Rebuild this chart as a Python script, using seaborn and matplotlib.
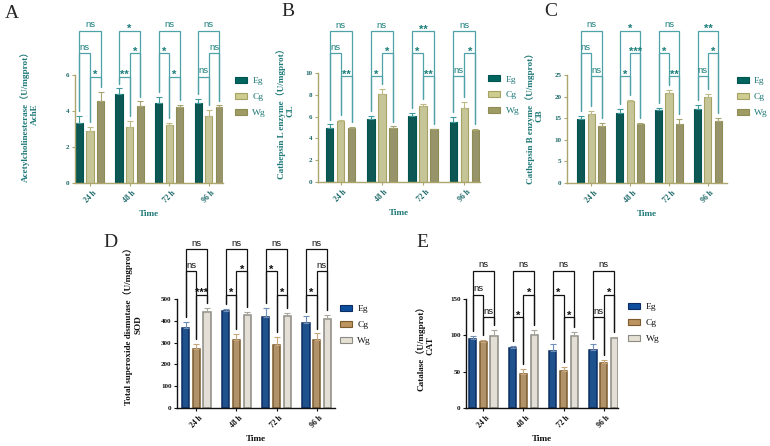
import numpy as np
import pandas as pd
import matplotlib
matplotlib.use('Agg')
import matplotlib.pyplot as plt
import matplotlib.patches as mpatches
from matplotlib.container import BarContainer
import seaborn as sns

# ===========================
# DATA
# ===========================
times = ['24 h', '48 h', '72 h', '96 h']
groups = ['Eg', 'Cg', 'Wg']

# A: acetylcholinesterase, rows = Eg, Cg, Wg
ache_mean = [[3.35, 4.92, 4.43, 4.45], [2.90, 3.10, 3.20, 3.73], [4.58, 4.28, 4.24, 4.20]]
ache_err = [[0.38, 0.33, 0.35, 0.22], [0.20, 0.37, 0.12, 0.33], [0.50, 0.25, 0.08, 0.11]]
ache_sig = [['ns', '**', '*', 'ns'], ['*', '*', '*', 'ns'], ['ns', '*', 'ns', 'ns']]

# B: cathepsin L
cl_mean = [[5.00, 5.80, 6.10, 5.47], [5.62, 8.04, 6.97, 6.82], [4.92, 4.92, 4.83, 4.77]]
cl_err = [[0.28, 0.25, 0.26, 0.48], [0.05, 0.50, 0.22, 0.52], [0.10, 0.18, 0.06, 0.12]]
cl_sig = [['ns', '*', '*', 'ns'], ['**', '*', '**', '*'], ['ns', 'ns', '**', 'ns']]

# C: cathepsin B
cb_mean = [[14.8, 16.3, 17.0, 17.2], [15.9, 19.0, 20.8, 20.0], [13.2, 13.7, 13.6, 14.3]]
cb_err = [[0.7, 0.8, 0.3, 0.8], [0.8, 0.2, 0.7, 0.6], [0.7, 0.3, 1.3, 0.7]]
cb_sig = [['ns', '*', '*', 'ns'], ['ns', '***', '**', '*'], ['ns', '*', 'ns', '**']]

# D: total superoxide dismutase
sod_mean = [[368, 443, 418, 392], [270, 312, 291, 312], [439, 425, 422, 410]]
sod_err = [[28, 12, 42, 28], [25, 26, 36, 30], [18, 16, 12, 15]]
sod_sig = [['ns', '*', '*', '*'], ['***', '*', '*', 'ns'], ['ns', 'ns', 'ns', 'ns']]

# E: catalase
cat_mean = [[94.8, 82.4, 78.7, 79.6], [91.0, 46.5, 51.5, 62.0], [99.0, 101.0, 99.0, 96.6]]
cat_err = [[4.6, 3.4, 9.3, 8.4], [2.6, 7.4, 5.0, 3.8], [8.0, 6.0, 5.2, 1.5]]
cat_sig = [['ns', '*', '*', 'ns'], ['ns', '*', '*', '*'], ['ns', 'ns', 'ns', 'ns']]

# sig rows: Eg-Cg, Cg-Wg, Eg-Wg
# row used by the Eg-Cg bracket at each time point (0 = lowest, 1 = middle)
ec_row = [1, 0, 1, 0]

SERIF = ['Liberation Serif', 'Noto Sans CJK SC', 'DejaVu Sans']
SANS = ['Liberation Sans', 'DejaVu Sans']

W, H = 770, 446

TEAL = dict(
    fill=['#00655f', '#cdcd90', '#9e9b63'],
    edge=['#00554f', '#a6a266', '#8e8b55'],
    err=['#3f9a9c', '#bdb985', '#a8a470'],
    spine='#aca56e', tick='#1d6868', label='#1e7878',
    line='#4fa3a8', sig='#1a7f7a', bar_lw=0.8,
)
EARTH = dict(
    fill=['#0d4f9e', '#bb9460', '#e5e0d4'],
    edge=['#0b2d63', '#7d5a2d', '#8c8a82'],
    err=['#6f8fb8', '#c9a67a', '#a9a69e'],
    spine='#111111', tick='#111111', label='#111111',
    line='#111111', sig='#111111', bar_lw=1.1,
)


def px_rect(left, right, bottom, top):
    return [left / W, 1 - bottom / H, (right - left) / W, (bottom - top) / H]


def draw_bracket(ax, x1, x2, y, b1, b2, text, theme):
    ax.plot([x1, x1, x2, x2], [b1, y, y, b2], color=theme['line'], lw=0.9,
            clip_on=False, solid_joinstyle='miter')
    if text == 'ns':
        ax.annotate(text, xy=((x1 + x2) / 2, y), xytext=(0, 2.5), textcoords='offset points',
                    ha='center', va='baseline', fontsize=6.8, family=SANS, color=theme['sig'],
                    annotation_clip=False)
    else:
        ax.annotate(text, xy=((x1 + x2) / 2, y), xytext=(0, -1.0), textcoords='offset points',
                    ha='center', va='baseline', fontsize=8, fontweight='bold', family=SANS,
                    color=theme['sig'], annotation_clip=False)


def draw_panel(fig, cfg):
    theme = cfg['theme']
    ax = fig.add_axes(px_rect(*cfg['box']))

    df = pd.DataFrame({
        'Time': np.tile(times, len(groups)),
        'group': np.repeat(groups, len(times)),
        'value': np.ravel(cfg['mean']),
    })
    sns.barplot(data=df, x='Time', y='value', hue='group', order=times, hue_order=groups,
                palette=theme['fill'], gap=0.32, errorbar=None, linewidth=theme['bar_lw'],
                legend=False, ax=ax)

    ymax = cfg['yticks'][-1]
    pad = 0.045 * ymax
    centers = []
    tops = []
    bar_conts = [c for c in ax.containers if isinstance(c, BarContainer)]
    for h, cont in enumerate(bar_conts):
        xs = [b.get_x() + b.get_width() / 2 for b in cont]
        ys = [b.get_height() for b in cont]
        for b in cont:
            b.set_edgecolor(theme['edge'][h])
        err = np.array(cfg['err'][h])
        ax.errorbar(xs, ys, yerr=[np.zeros_like(err), err], fmt='none',
                    ecolor=theme['err'][h], elinewidth=0.8, capsize=2, capthick=0.8)
        centers.append(xs)
        tops.append(np.array(ys) + err + pad)

    levels = cfg['levels']
    ec, cw, ew = cfg['sig']
    for i in range(len(times)):
        r = ec_row[i]
        draw_bracket(ax, centers[0][i], centers[1][i], levels[r], tops[0][i], tops[1][i], ec[i], theme)
        draw_bracket(ax, centers[1][i], centers[2][i], levels[1 - r], tops[1][i], tops[2][i], cw[i], theme)
        draw_bracket(ax, centers[0][i], centers[2][i], levels[2], tops[0][i], tops[2][i], ew[i], theme)

    ax.set_xlim(*cfg['xlim'])
    ax.set_ylim(0, ymax)
    ax.set_yticks(cfg['yticks'])
    sns.despine(ax=ax)
    for side in ['left', 'bottom']:
        ax.spines[side].set_color(theme['spine'])
        ax.spines[side].set_linewidth(1.0)
    ax.tick_params(axis='both', length=2.5, width=0.8, color=theme['spine'],
                   labelcolor=theme['tick'], pad=1.5)
    for lab in ax.get_yticklabels():
        lab.set_fontfamily(SERIF)
        lab.set_fontweight('bold')
        lab.set_fontsize(5)
    for lab in ax.get_xticklabels():
        lab.set_fontfamily(SERIF)
        lab.set_fontweight('bold')
        lab.set_fontsize(5.5)
        lab.set_rotation(45)

    ax.set_xlabel('Time', family=SERIF, fontweight='bold', fontsize=6.6,
                  color=theme['label'], labelpad=4)
    ax.set_ylabel(cfg['ylabel'], family=SERIF, fontweight='bold', fontsize=6.6,
                  color=theme['label'], linespacing=1.15)
    ax.yaxis.set_label_coords(*cfg['label_xy'])

    handles = [mpatches.Patch(facecolor=theme['fill'][h], edgecolor=theme['edge'][h], lw=0.8)
               for h in range(len(groups))]
    ax.legend(handles, groups, loc='upper left', bbox_to_anchor=cfg['legend_xy'],
              frameon=False, prop=dict(family=SERIF, size=6.8), labelcolor=theme['label'],
              handlelength=1.3, handleheight=0.6, handletextpad=0.55, labelspacing=0.8,
              borderaxespad=0, borderpad=0)

    fig.text(cfg['letter_xy'][0] / W, 1 - cfg['letter_xy'][1] / H, cfg['letter'],
             fontsize=14, family=SERIF, va='top', ha='left')
    return ax


panels = [
    dict(letter='A', letter_xy=(5, 5), box=(75, 223, 183, 75), theme=TEAL,
         mean=ache_mean, err=ache_err, sig=ache_sig, yticks=[0, 2, 4, 6],
         levels=[5.9, 7.2, 8.45], xlim=(-0.38, 3.36),
         ylabel='Acetylcholinesterase（U/mgprot）\nAchE',
         label_xy=(-0.243, 0.64), legend_xy=(1.08, 0.98)),
    dict(letter='B', letter_xy=(281, 3), box=(318, 480, 182, 73), theme=TEAL,
         mean=cl_mean, err=cl_err, sig=cl_sig, yticks=[0, 2, 4, 6, 8, 10],
         levels=[9.7, 11.8, 13.85], xlim=(-0.55, 3.38),
         ylabel='Cathepsin L enzyme（U/mgprot）\nCL',
         label_xy=(-0.142, 0.65), legend_xy=(1.05, 0.98)),
    dict(letter='C', letter_xy=(544, 3), box=(567, 727, 183, 75), theme=TEAL,
         mean=cb_mean, err=cb_err, sig=cb_sig, yticks=[0, 5, 10, 15, 20, 25],
         levels=[24.7, 30.0, 35.3], xlim=(-0.62, 3.49),
         ylabel='Cathepsin B enzyme（U/mgprot）\nCB',
         label_xy=(-0.144, 0.62), legend_xy=(1.06, 0.98)),
    dict(letter='D', letter_xy=(103, 234), box=(177, 335, 408, 299), theme=EARTH,
         mean=sod_mean, err=sod_err, sig=sod_sig, yticks=[0, 100, 200, 300, 400, 500],
         levels=[520, 628, 728], xlim=(-0.485, 3.46),
         ylabel='Total superoxide dismutase（U/mgprot）\nSOD',
         label_xy=(-0.22, 0.77), legend_xy=(1.03, 0.945)),
    dict(letter='E', letter_xy=(416, 234), box=(466, 618, 408, 299), theme=EARTH,
         mean=cat_mean, err=cat_err, sig=cat_sig, yticks=[0, 50, 100, 150],
         levels=[124.7, 156, 188.7], xlim=(-0.435, 3.36),
         ylabel='Catalase（U/mgprot）\nCAT',
         label_xy=(-0.21, 0.57), legend_xy=(1.066, 0.963)),
]


def main():
    sns.set_style('ticks')
    plt.rcParams['font.family'] = SERIF
    plt.rcParams['axes.unicode_minus'] = False

    fig = plt.figure(figsize=(W / 100, H / 100), dpi=100)
    for cfg in panels:
        draw_panel(fig, cfg)
    fig.savefig('out.png', dpi=100, facecolor='white')
    plt.close(fig)


if __name__ == '__main__':
    main()
